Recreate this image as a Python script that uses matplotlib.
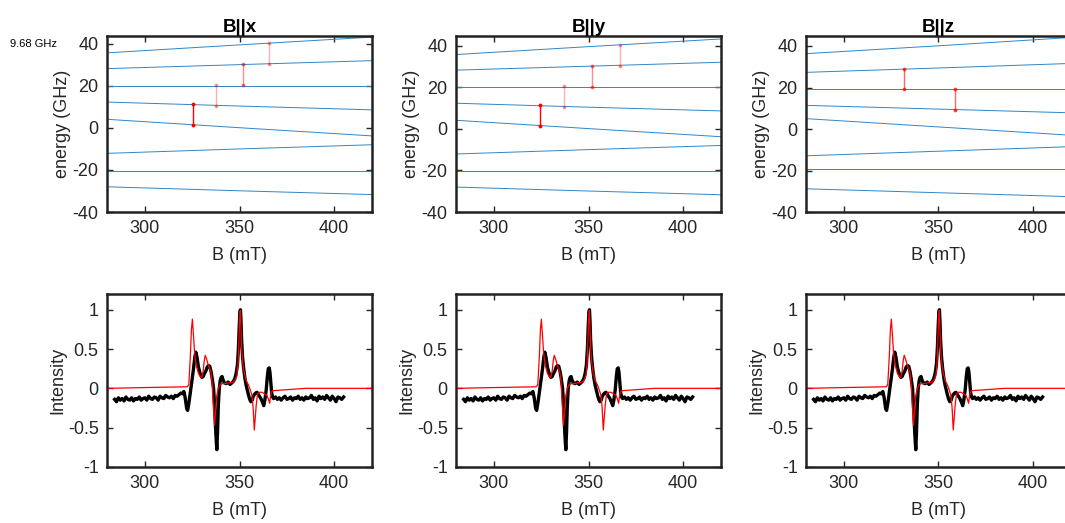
import matplotlib.pyplot as plt
import numpy as np

plt.rcParams['font.family'] = ['Liberation Sans', 'DejaVu Sans']
plt.rcParams['axes.unicode_minus'] = False

# energy levels (GHz) at these fields (mT)
B_lev = [280, 350, 420]
levels_x = [[35.7, 39.5, 43.2], [28.2, 30.1, 32.0], [20.1, 20.1, 20.1], [12.3, 10.4, 8.6],
            [4.1, 0.1, -3.8], [-12.1, -10.0, -8.0], [-20.4, -20.4, -20.4], [-28.0, -29.9, -31.7]]
levels_y = [[35.7, 39.5, 43.2], [28.2, 30.1, 32.0], [20.1, 20.1, 20.1], [12.3, 10.4, 8.6],
            [4.1, 0.1, -3.8], [-12.1, -10.0, -8.0], [-20.4, -20.4, -20.4], [-28.0, -29.9, -31.7]]
levels_z = [[36.3, 40.1, 44.1], [27.3, 29.4, 31.6], [19.1, 19.1, 19.1], [11.4, 9.6, 7.8],
            [5.0, 1.0, -3.0], [-12.9, -10.7, -8.5], [-19.4, -19.4, -19.4], [-28.8, -30.7, -32.6]]

# transitions: field, lower, upper, strength
trans_x = [(325.6, 1.4, 11.2, 1.0), (337.7, 10.5, 20.3, 0.3), (351.7, 20.2, 30.2, 0.45), (365.8, 30.2, 40.2, 0.3)]
trans_y = [(324.5, 1.5, 11.3, 1.0), (337.0, 10.6, 20.4, 0.3), (351.9, 20.2, 30.1, 0.45), (366.5, 30.2, 40.2, 0.3)]
trans_z = [(331.9, 19.2, 29.0, 0.6), (358.5, 9.4, 19.2, 0.6)]

titles = ['B||x', 'B||y', 'B||z']
ytops = [43.7, 44.6, 44.8]

# experimental spectrum
B_left = np.arange(284, 320)
I_left = [-0.14, -0.17, -0.12, -0.15, -0.13, -0.16, -0.11, -0.14, -0.15, -0.12, -0.16, -0.13,
          -0.14, -0.11, -0.15, -0.13, -0.12, -0.15, -0.10, -0.13, -0.14, -0.11, -0.12, -0.15,
          -0.10, -0.12, -0.13, -0.09, -0.11, -0.12, -0.10, -0.13, -0.09, -0.10, -0.08, -0.06]
B_mid = [320.0, 320.6, 321.3, 322.1, 322.6, 323.3, 323.9, 324.8, 325.7, 326.4, 326.9, 327.5,
         328.3, 329.2, 330.1, 330.8, 331.5, 332.2, 332.9, 333.6, 334.3, 335.0, 335.6, 336.3,
         336.8, 337.4, 338.0, 338.4, 338.8, 339.3, 339.8, 340.3, 340.8, 341.4, 342.0, 343.0,
         344.0, 345.0, 346.0, 346.8, 347.6, 348.3, 348.9, 349.4, 349.8, 350.2, 350.5, 350.8,
         351.1, 351.6, 352.2, 352.9, 353.5, 354.2, 354.8, 355.4, 356.0, 356.7, 357.3, 357.8,
         358.5, 359.2, 359.8, 360.5, 361.3, 362.2, 362.8, 363.4, 364.1, 364.7, 365.2, 365.7,
         366.1, 366.6, 367.0, 367.5]
I_mid = [-0.07, -0.04, -0.12, -0.26, -0.28, -0.18, -0.07, 0.10, 0.25, 0.40, 0.46, 0.40,
         0.27, 0.19, 0.14, 0.15, 0.19, 0.22, 0.27, 0.29, 0.28, 0.21, 0.12, 0.00,
         -0.20, -0.54, -0.78, -0.55, -0.22, 0.00, 0.10, 0.14, 0.15, 0.10, 0.07, 0.06,
         0.08, 0.05, 0.07, 0.09, 0.13, 0.20, 0.30, 0.50, 0.76, 0.97, 1.00, 0.85,
         0.62, 0.40, 0.25, 0.12, 0.04, -0.03, -0.09, -0.14, -0.17, -0.15, -0.10, -0.08,
         -0.06, -0.05, -0.07, -0.10, -0.13, -0.18, -0.22, -0.15, -0.02, 0.15, 0.25, 0.26,
         0.20, 0.05, -0.06, -0.11]
B_right = np.arange(368, 406)
I_right = [-0.13, -0.11, -0.14, -0.12, -0.15, -0.12, -0.10, -0.14, -0.13, -0.11,
           -0.15, -0.12, -0.13, -0.10, -0.14, -0.12, -0.15, -0.11, -0.13, -0.12,
           -0.09, -0.14, -0.12, -0.16, -0.10, -0.13, -0.11, -0.14, -0.09, -0.12,
           -0.15, -0.10, -0.13, -0.17, -0.11, -0.12, -0.14, -0.11]
B_exp = np.concatenate([B_left, B_mid, B_right])
I_exp = np.concatenate([I_left, I_mid, I_right])

# simulated spectrum
B_sim = [280, 300, 322.5, 323.2, 324.0, 324.6, 325.1, 325.6, 326.2, 326.6, 327.3, 328.3,
         329.2, 330.1, 330.8, 331.4, 331.9, 332.5, 333.6, 334.3, 334.9, 335.5, 336.1, 336.8,
         337.3, 338.0, 338.8, 339.8, 341.0, 342.4, 344.5, 346.8, 347.8, 348.6, 349.2, 349.6,
         350.0, 350.4, 350.8, 351.1, 351.6, 352.2, 353.5, 354.8, 355.8, 356.6, 357.2, 357.8,
         358.3, 358.8, 359.5, 360.5, 361.9, 363.3, 364.5, 365.3, 365.9, 366.4, 366.8, 367.4,
         385, 420]
I_sim = [0.0, 0.01, 0.02, 0.05, 0.40, 0.75, 0.88, 0.70, 0.48, 0.38, 0.28, 0.19,
         0.15, 0.14, 0.22, 0.36, 0.42, 0.38, 0.29, 0.25, 0.20, 0.08, -0.20, -0.47,
         -0.30, -0.09, 0.00, 0.05, 0.06, 0.06, 0.07, 0.08, 0.11, 0.16, 0.30, 0.55,
         0.85, 0.99, 0.75, 0.53, 0.35, 0.23, 0.10, 0.04, -0.03, -0.09, -0.25, -0.53,
         -0.38, -0.22, -0.07, -0.05, -0.05, -0.07, -0.09, -0.14, -0.19, -0.10, -0.05, -0.03,
         0.0, 0.0]

fig = plt.figure(figsize=(10.65, 5.23), dpi=100)
lefts = [0.1005, 0.4282, 0.7568]
txt = '#262626'


def style(ax):
    ax.tick_params(direction='in', top=True, right=True, length=4, width=1,
                   labelsize=13, colors=txt, pad=6)
    for s in ax.spines.values():
        s.set_linewidth(1.8)
        s.set_color('#222222')
    ax.set_xlim(280, 420)
    ax.set_xticks([300, 350, 400])
    ax.set_xlabel('B (mT)', fontsize=13, color=txt, labelpad=7)


for i, (levels, trans) in enumerate([(levels_x, trans_x), (levels_y, trans_y), (levels_z, trans_z)]):
    ax = fig.add_axes([lefts[i], 0.5946, 0.2488, 0.3365])
    for E in levels:
        ax.plot(B_lev, E, color='#2f86c8', linewidth=0.7)
    for b, lo, hi, a in trans:
        ax.plot([b, b], [lo, hi], color='red', alpha=a, linewidth=1.0,
                marker='o', markersize=1.8)
    style(ax)
    ax.set_ylim(-40, ytops[i])
    ax.set_yticks([-40, -20, 0, 20, 40])
    ax.set_ylabel('energy (GHz)', fontsize=13, color=txt, labelpad=1)
    ax.set_title(titles[i], fontsize=13.5, fontweight='bold', pad=3)

    ax2 = fig.add_axes([lefts[i], 0.1071, 0.2488, 0.3308])
    ax2.plot(B_exp, I_exp, color='black', linewidth=2.4)
    ax2.plot(B_sim, I_sim, color='red', linewidth=0.9)
    style(ax2)
    ax2.set_ylim(-1, 1.2)
    ax2.set_yticks([-1, -0.5, 0, 0.5, 1])
    ax2.set_yticklabels(['-1', '-0.5', '0', '0.5', '1'])
    ax2.set_ylabel('Intensity', fontsize=13, color=txt, labelpad=1)

fig.text(10 / 1065, 1 - 44 / 523, '9.68 GHz', fontsize=8, va='center', ha='left')

plt.savefig('out.png', dpi=100)
